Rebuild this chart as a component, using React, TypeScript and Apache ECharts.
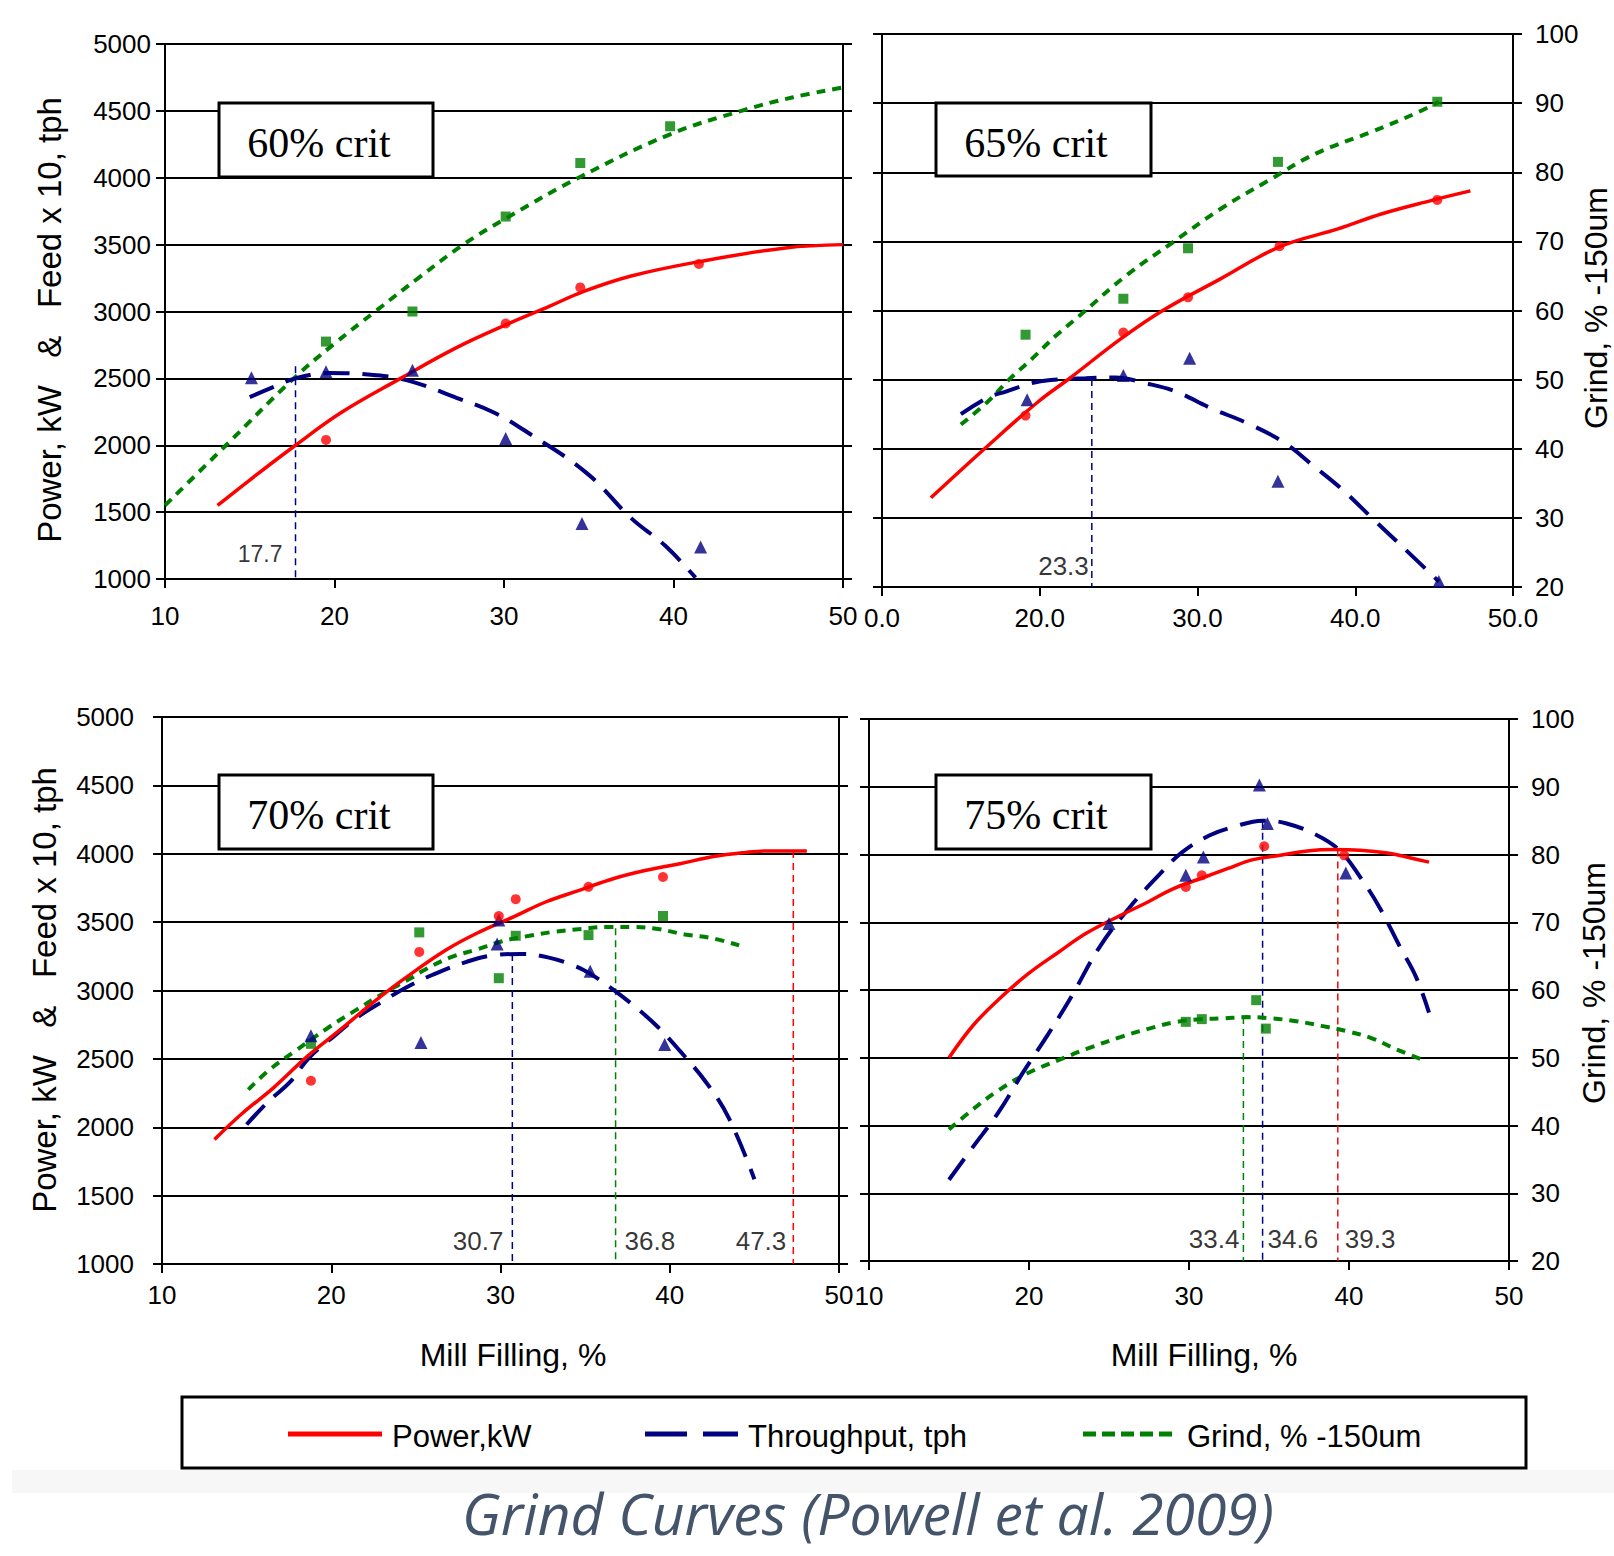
import React, { useEffect, useRef } from 'react';
import * as echarts from 'echarts';

// ---------- labels ----------
const critLabels = ['60% crit', '65% crit', '70% crit', '75% crit'];
const seriesNames = ['Power,kW', 'Throughput, tph', 'Grind, % -150um'];
const leftTitle = 'Power, kW   &   Feed x 10, tph';
const rightTitle = 'Grind, % -150um';
const bottomTitle = 'Mill Filling, %';
const pageTitle = 'Grind Curves (Powell et al. 2009)';
const xTickLabelsPlain = ['10', '20', '30', '40', '50'];
const xTickLabelsDecimal = ['0.0', '20.0', '30.0', '40.0', '50.0'];

// ---------- 60% crit ----------
const crit60PowerFit = [[13.1, 1550], [15, 1740], [17.7, 2000], [20.4, 2245], [23.9, 2500], [27.2, 2730], [30.1, 2900], [32.7, 3040], [34.6, 3145], [37.5, 3265], [41.4, 3370], [46.6, 3475], [50, 3500]];
const crit60ThroughputFit = [[15, 2360], [16.5, 2440], [17.7, 2500], [19.7, 2540], [22.3, 2525], [24.3, 2485], [27.2, 2355], [29.4, 2245], [31.4, 2095], [34.9, 1790], [37.5, 1455], [39.5, 1250], [41.3, 1010]];
const crit60GrindFit = [[10, 31], [13.6, 40], [17.6, 50], [20, 55.2], [22.4, 60], [25, 65.1], [27.6, 70], [30.1, 73.9], [34.4, 80], [39.8, 86.5], [44, 90], [47, 92], [50, 93.5]];
const crit60PowerPts = [[19.5, 2040], [30.1, 2910], [34.5, 3180], [41.5, 3355]];
const crit60ThroughputPts = [[15.1, 2505], [19.5, 2550], [24.6, 2560], [30.1, 2050], [34.6, 1415], [41.6, 1240]];
const crit60GrindPts = [[19.5, 55.5], [24.6, 60], [30.1, 74.2], [34.5, 82.2], [39.8, 87.7]];
const crit60Refs = [{ x: 17.7, kind: 'throughput', top: 2590 }];

// ---------- 65% crit ----------
const crit65PowerFit = [[13.1, 1645], [16.5, 2000], [19.9, 2340], [21.9, 2510], [25.2, 2800], [27.8, 3000], [31.4, 3225], [35.2, 3460], [38.9, 3590], [41.7, 3700], [44.8, 3795], [47.3, 3865]];
const crit65ThroughputFit = [[15, 2250], [16.7, 2370], [17.9, 2415], [19.5, 2475], [20.7, 2497], [22.9, 2510], [24.8, 2515], [26.7, 2474], [28.6, 2415], [30.8, 2296], [33.3, 2177], [35.5, 2044], [37.3, 1881], [39.2, 1703], [41.1, 1495], [43.3, 1258], [45.3, 1040]];
const crit65GrindFit = [[15, 43.5], [16.7, 46.8], [18.05, 50], [19.5, 53], [21, 56.3], [22.5, 59.2], [25.45, 65], [28.4, 69.8], [31.6, 74.9], [34.5, 78.8], [37.5, 82.7], [41.1, 85.9], [43.9, 88.6], [45.3, 90.2]];
const crit65PowerPts = [[19.1, 2240], [25.3, 2840], [29.4, 3095], [35.2, 3465], [45.2, 3800]];
const crit65ThroughputPts = [[19.2, 2355], [25.3, 2530], [29.5, 2655], [35.1, 1765], [45.3, 1040]];
const crit65GrindPts = [[19.1, 56.5], [25.3, 61.7], [29.4, 69], [35.1, 81.5], [45.2, 90.2]];
const crit65Refs = [{ x: 23.3, kind: 'throughput', top: 2505 }];

// ---------- 70% crit ----------
const crit70PowerFit = [[13.1, 1910], [14.7, 2097], [16.6, 2290], [18.6, 2520], [20.5, 2710], [22.5, 2915], [24.3, 3085], [26.8, 3298], [28.8, 3431], [30.8, 3540], [32.7, 3649], [34.7, 3734], [36.7, 3819], [38.6, 3879], [40.6, 3927], [42.6, 3980], [44.5, 4010], [45.8, 4021], [48.1, 4021]];
const crit70ThroughputFit = [[15, 2020], [16.3, 2190], [17.6, 2335], [18.7, 2510], [20.2, 2670], [21.5, 2800], [23.1, 2925], [24.4, 3020], [26, 3115], [28, 3210], [29.6, 3258], [31.2, 3267], [32.8, 3242], [34.4, 3178], [35.4, 3114], [36.7, 3003], [38, 2876], [39.3, 2733], [40.6, 2558], [42.2, 2320], [43.5, 2065], [45, 1620]];
const crit70GrindFit = [[15.1, 45.5], [16.3, 48.3], [17.9, 51.2], [19.9, 54.7], [21.5, 57.2], [23.1, 59.6], [24.7, 61.8], [25.5, 63], [27, 64.8], [28.6, 66], [30.1, 67.2], [31.7, 68], [33.2, 68.6], [34.8, 69], [36.3, 69.3], [37.8, 69.3], [39.3, 69], [40.9, 68.2], [42.4, 67.7], [44.1, 66.6]];
const crit70PowerPts = [[18.8, 2340], [25.2, 3282], [29.9, 3545], [30.9, 3668], [35.2, 3758], [39.6, 3830]];
const crit70ThroughputPts = [[18.8, 2670], [25.3, 2620], [29.8, 3340], [29.9, 3515], [35.3, 3140], [39.7, 2605]];
const crit70GrindPts = [[18.8, 52.2], [25.2, 68.5], [29.9, 61.8], [30.9, 68], [35.2, 68.1], [39.6, 70.9]];
const crit70Refs = [{ x: 30.7, kind: 'throughput', top: 3267 }, { x: 36.8, kind: 'grind', top: 69.1 }, { x: 47.3, kind: 'power', top: 4021 }];

// ---------- 75% crit ----------
const crit75PowerFit = [[15, 2500], [16.5, 2738], [18.1, 2930], [19.9, 3115], [21.8, 3275], [23.6, 3420], [25.7, 3550], [27.4, 3648], [29, 3747], [30.7, 3821], [32.4, 3895], [34, 3962], [35.7, 3994], [37.4, 4026], [39, 4036], [40.7, 4031], [42.4, 4011], [43.6, 3981], [45, 3944]];
const crit75ThroughputFit = [[15, 1600], [16.5, 1842], [18.1, 2098], [19.6, 2386], [21.2, 2674], [22.7, 2962], [24.4, 3315], [26.3, 3611], [28.2, 3858], [29.6, 4019], [31.3, 4142], [32.8, 4204], [34.6, 4250], [36.1, 4229], [38, 4142], [39.4, 4031], [40.7, 3833], [41.9, 3611], [43.2, 3315], [44.2, 3093], [45, 2833]];
const crit75GrindFit = [[15, 39.4], [16.5, 42.4], [18.1, 45.2], [19.9, 47.7], [21.8, 49.6], [23.6, 51.3], [25.9, 53.2], [27.5, 54.3], [29, 55.2], [30.7, 55.7], [32.1, 55.8], [33.6, 56], [35.2, 55.8], [36.7, 55.4], [38.3, 54.7], [39.9, 53.9], [41.4, 52.9], [43, 51.2], [44.5, 49.8]];
const crit75PowerPts = [[29.8, 3760], [30.8, 3846], [34.7, 4061], [39.7, 3994]];
const crit75ThroughputPts = [[25, 3490], [29.8, 3846], [30.9, 3981], [34.4, 4513], [34.9, 4229], [39.8, 3863]];
const crit75GrindPts = [[29.8, 55.3], [30.8, 55.7], [34.2, 58.5], [34.8, 54.3]];
const crit75Refs = [{ x: 33.4, kind: 'grind', top: 56.0 }, { x: 34.6, kind: 'throughput', top: 4250 }, { x: 39.3, kind: 'power', top: 4036 }];

// ---------- layout & styles (not data) ----------
const FONT = 'Liberation Sans, Arial, sans-serif';
const COLORS: Record<string, string> = { power: '#ff0000', throughput: '#000080', grind: '#008000' };
const GRIDS = [
  { left: 165, top: 44, width: 678, height: 535 },
  { left: 882, top: 34, width: 631, height: 553 },
  { left: 162, top: 717, width: 677, height: 547 },
  { left: 869, top: 719, width: 640, height: 542 },
];
const X_LABEL_MARGIN = [24, 18, 18, 22];
const Y_LEFT_LABEL_MARGIN = [14, 14, 28, 14];
const Y_RIGHT_LABEL_MARGIN = [14, 22, 14, 22];
const SHOW_LEFT_LABELS = [true, false, true, false];
const REF_LABEL_Y = [1190, 1150, 1170, 1160];
const REF_LABEL_FONT = [23, 26, 26, 26];
const REF_LABEL_SIDE = [['left'], ['left'], ['left', 'right', 'left'], ['left', 'right', 'right']];
const REF_LABEL_DIST = [[12], [2], [8, 8, 6], [3, 4, 6]];
const CRIT_BOXES = [
  { x: 219, y: 103, w: 214, h: 74, tx: 319, ty: 143 },
  { x: 936, y: 103, w: 215, h: 73, tx: 1036, ty: 143 },
  { x: 219, y: 775, w: 214, h: 74, tx: 319, ty: 815 },
  { x: 936, y: 775, w: 215, h: 74, tx: 1036, ty: 815 },
];

const panels = [
  { power: crit60PowerFit, throughput: crit60ThroughputFit, grind: crit60GrindFit, powerPts: crit60PowerPts, throughputPts: crit60ThroughputPts, grindPts: crit60GrindPts, refs: crit60Refs, xLabels: xTickLabelsPlain },
  { power: crit65PowerFit, throughput: crit65ThroughputFit, grind: crit65GrindFit, powerPts: crit65PowerPts, throughputPts: crit65ThroughputPts, grindPts: crit65GrindPts, refs: crit65Refs, xLabels: xTickLabelsDecimal },
  { power: crit70PowerFit, throughput: crit70ThroughputFit, grind: crit70GrindFit, powerPts: crit70PowerPts, throughputPts: crit70ThroughputPts, grindPts: crit70GrindPts, refs: crit70Refs, xLabels: xTickLabelsPlain },
  { power: crit75PowerFit, throughput: crit75ThroughputFit, grind: crit75GrindFit, powerPts: crit75PowerPts, throughputPts: crit75ThroughputPts, grindPts: crit75GrindPts, refs: crit75Refs, xLabels: xTickLabelsPlain },
];

const LINE_STYLES: Record<string, any> = {
  power: { color: COLORS.power, width: 3.5, type: 'solid' },
  throughput: { color: COLORS.throughput, width: 4, type: [26, 13] },
  grind: { color: COLORS.grind, width: 4, type: [9, 7] },
};

function buildOption() {
  const grid = GRIDS.map((g) => ({ ...g, containLabel: false }));
  const xAxis = panels.map((p, i) => ({
    type: 'value', gridIndex: i, min: 10, max: 50, interval: 10,
    axisLine: { show: true, onZero: false, lineStyle: { color: '#000', width: 2 } },
    axisTick: { show: true, length: 9, lineStyle: { color: '#000', width: 2 } },
    axisLabel: {
      fontFamily: FONT, fontSize: 26, color: '#000', margin: X_LABEL_MARGIN[i],
      formatter: (v: number) => p.xLabels[Math.round((v - 10) / 10)] ?? '',
    },
    splitLine: { show: false },
  }));
  const yAxis: any[] = [];
  panels.forEach((_, i) => {
    yAxis.push({
      type: 'value', gridIndex: i, position: 'left', min: 1000, max: 5000, interval: 500,
      axisLine: { show: true, onZero: false, lineStyle: { color: '#000', width: 2 } },
      axisTick: { show: true, length: 9, lineStyle: { color: '#000', width: 2 } },
      axisLabel: { show: SHOW_LEFT_LABELS[i], fontFamily: FONT, fontSize: 26, color: '#000', margin: Y_LEFT_LABEL_MARGIN[i], formatter: (v: number) => String(v) },
      splitLine: { show: true, lineStyle: { color: '#000', width: 2 } },
    });
    yAxis.push({
      type: 'value', gridIndex: i, position: 'right', min: 20, max: 100, interval: 10,
      axisLine: { show: true, onZero: false, lineStyle: { color: '#000', width: 2 } },
      axisTick: { show: true, length: 9, lineStyle: { color: '#000', width: 2 } },
      axisLabel: { show: !SHOW_LEFT_LABELS[i], fontFamily: FONT, fontSize: 26, color: '#000', margin: Y_RIGHT_LABEL_MARGIN[i], formatter: (v: number) => String(v) },
      splitLine: { show: false },
    });
  });

  const series: any[] = [];
  panels.forEach((p, i) => {
    const yl = 2 * i;
    const yr = 2 * i + 1;
    p.refs.forEach((r, k) => {
      const onRight = r.kind === 'grind';
      series.push({
        type: 'line', xAxisIndex: i, yAxisIndex: onRight ? yr : yl, silent: true, symbol: 'none', z: 1,
        data: [[r.x, r.top], [r.x, onRight ? 20 : 1000]],
        lineStyle: { color: COLORS[r.kind], width: 1.5, type: [7, 5] },
      });
      series.push({
        type: 'scatter', xAxisIndex: i, yAxisIndex: yl, silent: true, symbol: 'circle', symbolSize: 2, z: 6,
        data: [[r.x, REF_LABEL_Y[i]]],
        itemStyle: { color: 'rgba(255,255,255,0)' },
        label: {
          show: true, position: REF_LABEL_SIDE[i][k], distance: REF_LABEL_DIST[i][k],
          formatter: () => r.x.toFixed(1), fontFamily: FONT, fontSize: REF_LABEL_FONT[i], color: '#000',
        },
      });
    });
    series.push({ type: 'line', name: seriesNames[2], xAxisIndex: i, yAxisIndex: yr, data: p.grind, smooth: 0.4, symbol: 'none', silent: true, lineStyle: LINE_STYLES.grind, z: 2 });
    series.push({ type: 'line', name: seriesNames[1], xAxisIndex: i, yAxisIndex: yl, data: p.throughput, smooth: 0.4, symbol: 'none', silent: true, lineStyle: LINE_STYLES.throughput, z: 3 });
    series.push({ type: 'line', name: seriesNames[0], xAxisIndex: i, yAxisIndex: yl, data: p.power, smooth: 0.4, symbol: 'none', silent: true, lineStyle: LINE_STYLES.power, z: 4 });
    series.push({ type: 'scatter', xAxisIndex: i, yAxisIndex: yr, data: p.grindPts, symbol: 'rect', symbolSize: 10, itemStyle: { color: COLORS.grind }, silent: true, z: 5 });
    series.push({ type: 'scatter', xAxisIndex: i, yAxisIndex: yl, data: p.throughputPts, symbol: 'triangle', symbolSize: 13, itemStyle: { color: COLORS.throughput }, silent: true, z: 5 });
    series.push({ type: 'scatter', xAxisIndex: i, yAxisIndex: yl, data: p.powerPts, symbol: 'circle', symbolSize: 10, itemStyle: { color: COLORS.power }, silent: true, z: 5 });
  });

  const txt = (text: string, x: number, y: number, size: number, extra: any = {}, rotation = 0, family = FONT) => ({
    type: 'text', x, y, rotation, z: 100,
    style: { text, fontSize: size, fontFamily: family, fill: extra.fill || '#000', fontStyle: extra.fontStyle || 'normal', align: extra.align || 'center', verticalAlign: 'middle', textAlign: extra.align || 'center', textVerticalAlign: 'middle' },
  });

  const graphic: any[] = [];
  graphic.push({ type: 'rect', z: 0, shape: { x: 12, y: 1470, width: 1602, height: 23 }, style: { fill: '#f7f7f7' } });
  CRIT_BOXES.forEach((b, i) => {
    graphic.push({ type: 'rect', z: 99, shape: { x: b.x, y: b.y, width: b.w, height: b.h }, style: { fill: '#fff', stroke: '#000', lineWidth: 3 } });
    graphic.push(txt(critLabels[i], b.tx, b.ty, 42, {}, 0, 'Liberation Serif, Times New Roman, serif'));
  });
  graphic.push(txt(leftTitle, 49, 320, 33, {}, Math.PI / 2));
  graphic.push(txt(leftTitle, 44, 990, 33, {}, Math.PI / 2));
  graphic.push(txt(rightTitle, 1596, 308, 32, {}, Math.PI / 2));
  graphic.push(txt(rightTitle, 1594, 983, 32, {}, Math.PI / 2));
  graphic.push(txt(bottomTitle, 513, 1355, 32));
  graphic.push(txt(bottomTitle, 1204, 1355, 32));
  graphic.push({ type: 'rect', z: 99, shape: { x: 182, y: 1397, width: 1344, height: 71 }, style: { fill: '#fff', stroke: '#000', lineWidth: 3 } });
  const legendKinds = ['power', 'throughput', 'grind'];
  const legendLine = [[288, 382], [645, 738], [1083, 1178]];
  const legendDash: any[] = [null, [42, 16], [13, 6]];
  const legendText = [392, 748, 1187];
  legendKinds.forEach((k, i) => {
    graphic.push({
      type: 'line', z: 100,
      shape: { x1: legendLine[i][0], y1: 1434, x2: legendLine[i][1], y2: 1434 },
      style: { stroke: COLORS[k], lineWidth: 5, lineDash: legendDash[i] || undefined },
    });
    graphic.push(txt(seriesNames[i], legendText[i], 1436, 31, { align: 'left' }));
  });
  graphic.push(txt(pageTitle, 868, 1513, 57, { fill: '#44546a', fontStyle: 'italic' }, 0, 'Open Sans, Noto Sans, sans-serif'));

  return { animation: false, backgroundColor: '#ffffff', grid, xAxis, yAxis, series, graphic };
}

export default function App() {
  const ref = useRef<HTMLDivElement>(null);
  useEffect(() => {
    document.body.style.margin = '0';
    const chart = echarts.init(ref.current as HTMLDivElement, null, { renderer: 'svg' });
    chart.setOption(buildOption() as any);
    return () => chart.dispose();
  }, []);
  return <div ref={ref} style={{ width: 1614, height: 1556 }} />;
}
